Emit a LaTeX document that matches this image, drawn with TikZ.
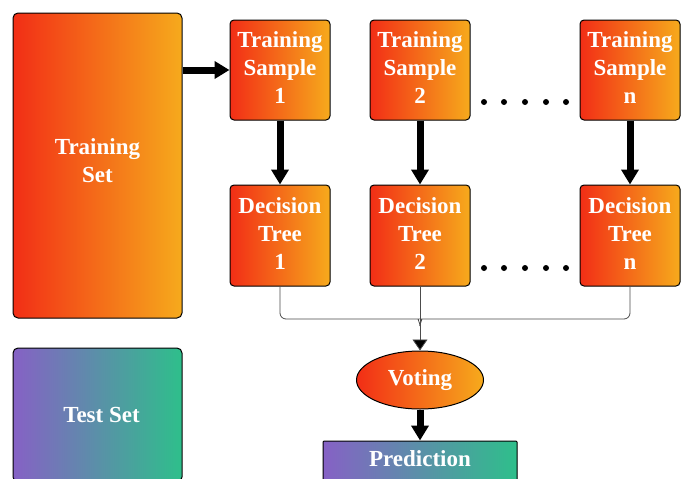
\documentclass[tikz,border=0pt]{standalone}
\usepackage{fontspec}
\setmainfont{Liberation Serif}
\usetikzlibrary{arrows.meta,shapes.geometric,calc}

\definecolor{flameL}{HTML}{F22E16}
\definecolor{flameR}{HTML}{F6AA1C}
\definecolor{seaL}{HTML}{8661C5}
\definecolor{seaR}{HTML}{2EBF8B}

\tikzset{
  warmbox/.style={draw=black, line width=1pt, rounded corners=4pt, left color=flameL, right color=flameR,
    text=white, font=\fontsize{23}{28}\selectfont\bfseries, align=center, inner sep=0pt},
  coolbox/.style={warmbox, left color=seaL, right color=seaR},
  bigarrow/.style={line width=7pt, -{Triangle[width=17pt,length=15pt]}},
  conn/.style={draw=black!70, line width=0.8pt},
  dotrow/.style={fill=black}
}

\begin{document}
\begin{tikzpicture}[x=1pt, y=-1pt]
  \clip (0,0) rectangle (688,479);
  \fill[white] (0,0) rectangle (688,479);

  % === Data sets ===
  \node[warmbox, rounded corners=5pt, minimum width=169pt, minimum height=305pt, text depth=10pt] (train) at (97.5,165.5) {Training\\Set};
  \node[coolbox, rounded corners=5pt, minimum width=169pt, minimum height=134pt] (test) at (97.5,415) {\hspace*{8pt}Test Set};

  % === Bootstrap samples ===
  \node[warmbox, minimum width=100pt, minimum height=100pt, text depth=4pt] (s1) at (280,70) {Training\\Sample\\1};
  \node[warmbox, minimum width=100pt, minimum height=100pt, text depth=4pt] (s2) at (420,70) {Training\\Sample\\2};
  \node[warmbox, minimum width=100pt, minimum height=100pt, text depth=4pt] (sn) at (630,70) {Training\\Sample\\n};

  % === Trees ===
  \node[warmbox, minimum width=100pt, minimum height=101pt, text depth=4pt] (t1) at (280,235.5) {Decision\\Tree\\1};
  \node[warmbox, minimum width=100pt, minimum height=101pt, text depth=4pt] (t2) at (420,235.5) {Decision\\Tree\\2};
  \node[warmbox, minimum width=100pt, minimum height=101pt, text depth=4pt] (tn) at (630,235.5) {Decision\\Tree\\n};

  % Dots between columns
  \foreach \x in {484, 504, 525, 546, 566} {
    \fill[dotrow] (\x,102) circle (3pt);
    \fill[dotrow] (\x,268) circle (3pt);
  }

  % === Voting and result ===
  \node[warmbox, ellipse, minimum width=127pt, minimum height=58pt] (vote) at (420,380) {Voting};
  \node[coolbox, rounded corners=1pt, minimum width=194pt, minimum height=40pt, text depth=4pt] (pred) at (420,461) {Prediction};

  % === Arrows ===
  \draw[bigarrow] (train.east |- s1.west) -- (s1.west);
  \draw[bigarrow] (s1) -- (t1);
  \draw[bigarrow] (s2) -- (t2);
  \draw[bigarrow] (sn) -- (tn);
  \draw[bigarrow] (vote) -- (pred);

  % Brace joining the trees
  \coordinate (vtip) at (420,326);
  \draw[conn, rounded corners=6pt] (t1.south) |- ($(vtip)+(-7,-7)$) to[out=0, in=90] (vtip);
  \draw[conn, rounded corners=6pt] (tn.south) |- ($(vtip)+(7,-7)$) to[out=180, in=90] (vtip);
  \draw[conn] (t2.south) -- (vtip);
  \draw[conn, -{Triangle[width=15pt,length=11pt,fill=black]}] (vtip) -- (vote.north);

\end{tikzpicture}
\end{document}
